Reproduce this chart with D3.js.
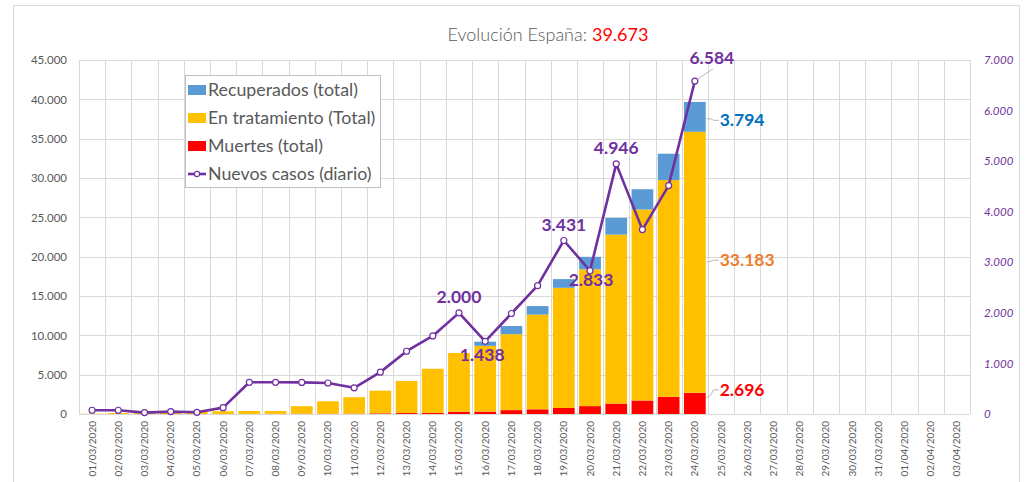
<!DOCTYPE html>
<html>
<head>
<meta charset="utf-8">
<script src="https://cdn.jsdelivr.net/npm/d3@7"></script>
<style>
  body { margin: 0; background: #fff; font-family: Lato, "Open Sans", sans-serif; }
</style>
</head>
<body>
<script>
// fechas del eje x (01/03 a 03/04)
var fechas = ["01/03/2020","02/03/2020","03/03/2020","04/03/2020","05/03/2020","06/03/2020","07/03/2020",
  "08/03/2020","09/03/2020","10/03/2020","11/03/2020","12/03/2020","13/03/2020","14/03/2020","15/03/2020",
  "16/03/2020","17/03/2020","18/03/2020","19/03/2020","20/03/2020","21/03/2020","22/03/2020","23/03/2020",
  "24/03/2020","25/03/2020","26/03/2020","27/03/2020","28/03/2020","29/03/2020","30/03/2020","31/03/2020",
  "01/04/2020","02/04/2020","03/04/2020"];

// series (solo hay datos hasta el 24/03)
var muertes = [0,0,1,2,3,5,10,17,28,35,47,84,120,136,288,309,491,598,767,1002,1326,1720,2182,2696];
var tratamiento = [40,120,164,220,256,340,364,357,971,1587,2093,2884,4089,5617,7465,8352,9659,12037,15273,17390,21475,24277,27552,33183];
var recuperados = [0,0,0,0,0,0,0,0,0,0,0,0,0,0,0,530,1028,1081,1107,1588,2125,2575,3355,3794];
var nuevos = [74,74,28,47,34,126,627,627,625,613,518,828,1241,1544,2000,1438,1987,2538,3431,2833,4946,3646,4517,6584];

var ticksIzq = [0,5000,10000,15000,20000,25000,30000,35000,40000,45000];
var ticksDer = [0,1000,2000,3000,4000,5000,6000,7000];
var totalTitulo = "39.673";

var W = 1025, H = 482;
var m = {left: 79, right: 55, top: 60, bottom: 68};
var iw = W - m.left - m.right, ih = H - m.top - m.bottom;

var fmt = function(v){ return d3.format(",")(v).replace(/,/g, "."); };

var svg = d3.select("body").append("svg").attr("width", W).attr("height", H);

// marco del grafico
svg.append("rect").attr("x", 13.5).attr("y", 5.5).attr("width", 1006).attr("height", 490)
  .attr("fill", "none").attr("stroke", "#d9d9d9");

// titulo
var tit = svg.append("text").attr("x", 548).attr("y", 41).attr("text-anchor", "middle")
  .style("font-size", "18px").style("font-weight", 300).attr("fill", "#595959");
tit.append("tspan").text("Evolución España: ");
tit.append("tspan").text(totalTitulo).attr("fill", "#ff0000").style("font-weight", 400);

var g = svg.append("g").attr("transform", "translate(" + m.left + "," + m.top + ")");

var x = d3.scaleBand().domain(fechas).range([0, iw]).paddingInner(0.17).paddingOuter(0.085);
var y = d3.scaleLinear().domain([0, 45000]).range([ih, 0]);
var y2 = d3.scaleLinear().domain([0, 7000]).range([ih, 0]);
var step = iw / fechas.length;

// rejilla
g.selectAll(".hg").data(ticksIzq).enter().append("line")
  .attr("x1", 0).attr("x2", iw)
  .attr("y1", d => Math.round(y(d)) + 0.5).attr("y2", d => Math.round(y(d)) + 0.5)
  .attr("stroke", "#d9d9d9");
g.selectAll(".vg").data(d3.range(fechas.length + 1)).enter().append("line")
  .attr("x1", d => Math.round(d * step) + 0.5).attr("x2", d => Math.round(d * step) + 0.5)
  .attr("y1", 0).attr("y2", ih).attr("stroke", "#d9d9d9");

// eje izquierdo
g.append("g").call(d3.axisLeft(y).tickValues(ticksIzq).tickFormat(fmt).tickSize(0).tickPadding(12))
  .call(s => s.select(".domain").remove())
  .selectAll("text").style("font-size", "11.5px").style("font-family", "Lato").attr("fill", "#595959");

// eje derecho
g.append("g").attr("transform", "translate(" + iw + ",0)")
  .call(d3.axisRight(y2).tickValues(ticksDer).tickFormat(fmt).tickSize(0).tickPadding(14))
  .call(s => s.select(".domain").remove())
  .selectAll("text").style("font-size", "11.5px").style("font-family", "Lato")
  .style("font-style", "italic").attr("fill", "#7030a0");

// eje x
var xa = g.append("g").attr("transform", "translate(0," + ih + ")")
  .call(d3.axisBottom(x).tickSize(0).tickPadding(0));
xa.select(".domain").remove();
xa.selectAll("text").attr("transform", "rotate(-90)").attr("x", -7).attr("y", 0).attr("dy", "0.35em")
  .style("text-anchor", "end").style("font-size", "10px").style("font-family", "Lato").attr("fill", "#595959");

// barras apiladas
var filas = muertes.map(function(d, i){
  return {fecha: fechas[i], muertes: d, tratamiento: tratamiento[i], recuperados: recuperados[i]};
});
var claves = ["muertes", "tratamiento", "recuperados"];
var colores = {muertes: "#ff0000", tratamiento: "#ffc000", recuperados: "#5b9bd5"};
var pila = d3.stack().keys(claves)(filas);

g.selectAll(".serie").data(pila).enter().append("g")
  .attr("fill", d => colores[d.key])
  .selectAll("rect").data(d => d).enter().append("rect")
  .attr("x", d => x(d.data.fecha))
  .attr("width", x.bandwidth())
  .attr("y", d => y(d[1]))
  .attr("height", d => Math.max(0, y(d[0]) - y(d[1])));

// linea de nuevos casos
var cx = function(d, i){ return x(fechas[i]) + x.bandwidth() / 2; };
var linea = d3.line().x(cx).y(d => y2(d));
g.append("path").datum(nuevos).attr("d", linea).attr("fill", "none")
  .attr("stroke", "#7030a0").attr("stroke-width", 2.6).attr("stroke-linejoin", "round");
g.selectAll(".pt").data(nuevos).enter().append("circle")
  .attr("cx", cx).attr("cy", d => y2(d)).attr("r", 3)
  .attr("fill", "#fff").attr("stroke", "#7030a0").attr("stroke-width", 1.2);

// etiquetas de la linea
var etiq = [
  {i: 14, dx: 0, dy: -16},
  {i: 15, dx: -3, dy: 14},
  {i: 18, dx: 0, dy: -16},
  {i: 19, dx: 1, dy: 9},
  {i: 20, dx: 0, dy: -16},
  {i: 23, dx: 17, dy: -23}
];
g.selectAll(".lb").data(etiq).enter().append("text")
  .attr("x", d => cx(null, d.i) + d.dx).attr("y", d => y2(nuevos[d.i]) + d.dy)
  .attr("dy", "0.35em").attr("text-anchor", "middle")
  .style("font-size", "17.5px").style("font-weight", 700).attr("fill", "#7030a0")
  .text(d => fmt(nuevos[d.i]));

// linea guia del 6.584
var ul = fechas.indexOf("24/03/2020");
var px = cx(null, ul), py = y2(nuevos[ul]);
g.append("line").attr("x1", px + 3).attr("y1", py - 2).attr("x2", px + 18).attr("y2", py - 12)
  .attr("stroke", "#a6a6a6").attr("stroke-width", 0.8);

// etiquetas del ultimo dia de cada barra
var bx = x(fechas[ul]) + x.bandwidth();
var ultimas = [
  {k: "recuperados", col: "#0070c0"},
  {k: "tratamiento", col: "#ed7d31"},
  {k: "muertes", col: "#ff0000"}
];
ultimas.forEach(function(e){
  var s = pila.find(p => p.key === e.k)[ul];
  var ym, yt;
  if (e.k === "muertes") { ym = y(s[1]) + 5; yt = ym - 8; }
  else if (e.k === "tratamiento") { ym = y(s[1] * 0.5 + s[0] * 0.5) + 0; yt = ym - 2; }
  else { ym = y((s[0] + s[1]) / 2) + 2; yt = ym + 1.5; }
  g.append("path").attr("d", "M" + (bx + 1) + "," + ym + " Q" + (bx + 5) + "," + (ym - 1) + " " + (bx + 8) + "," + yt + " L" + (bx + 13) + "," + yt)
    .attr("fill", "none").attr("stroke", "#a6a6a6").attr("stroke-width", 0.8);
  g.append("text").attr("x", bx + 14).attr("y", yt).attr("dy", "0.35em")
    .style("font-size", "17.5px").style("font-weight", 700).attr("fill", e.col)
    .text(fmt(e.k === "tratamiento" ? tratamiento[ul] : e.k === "muertes" ? muertes[ul] : recuperados[ul]));
});

// leyenda
var lg = svg.append("g").attr("transform", "translate(185,75)");
lg.append("rect").attr("x", 0.5).attr("y", 0.5).attr("width", 195).attr("height", 112)
  .attr("fill", "#fff").attr("stroke", "#bfbfbf");
var items = [
  {t: "Recuperados (total)", c: "#5b9bd5", tipo: "bar"},
  {t: "En tratamiento (Total)", c: "#ffc000", tipo: "bar"},
  {t: "Muertes (total)", c: "#ff0000", tipo: "bar"},
  {t: "Nuevos casos (diario)", c: "#7030a0", tipo: "line"}
];
var it = lg.selectAll(".it").data(items).enter().append("g")
  .attr("transform", (d, i) => "translate(3," + (15 + i * 28) + ")");
it.filter(d => d.tipo === "bar").append("rect")
  .attr("x", 0).attr("y", -5).attr("width", 18).attr("height", 10).attr("fill", d => d.c);
var li = it.filter(d => d.tipo === "line");
li.append("line").attr("x1", 0).attr("x2", 18).attr("y1", 0).attr("y2", 0)
  .attr("stroke", d => d.c).attr("stroke-width", 2.6);
li.append("circle").attr("cx", 9).attr("cy", 0).attr("r", 2.6).attr("fill", "#fff")
  .attr("stroke", d => d.c).attr("stroke-width", 1.2);
it.append("text").attr("x", 20).attr("y", 0).attr("dy", "0.35em")
  .style("font-size", "17.8px").attr("fill", "#595959").text(d => d.t);
</script>
</body>
</html>
